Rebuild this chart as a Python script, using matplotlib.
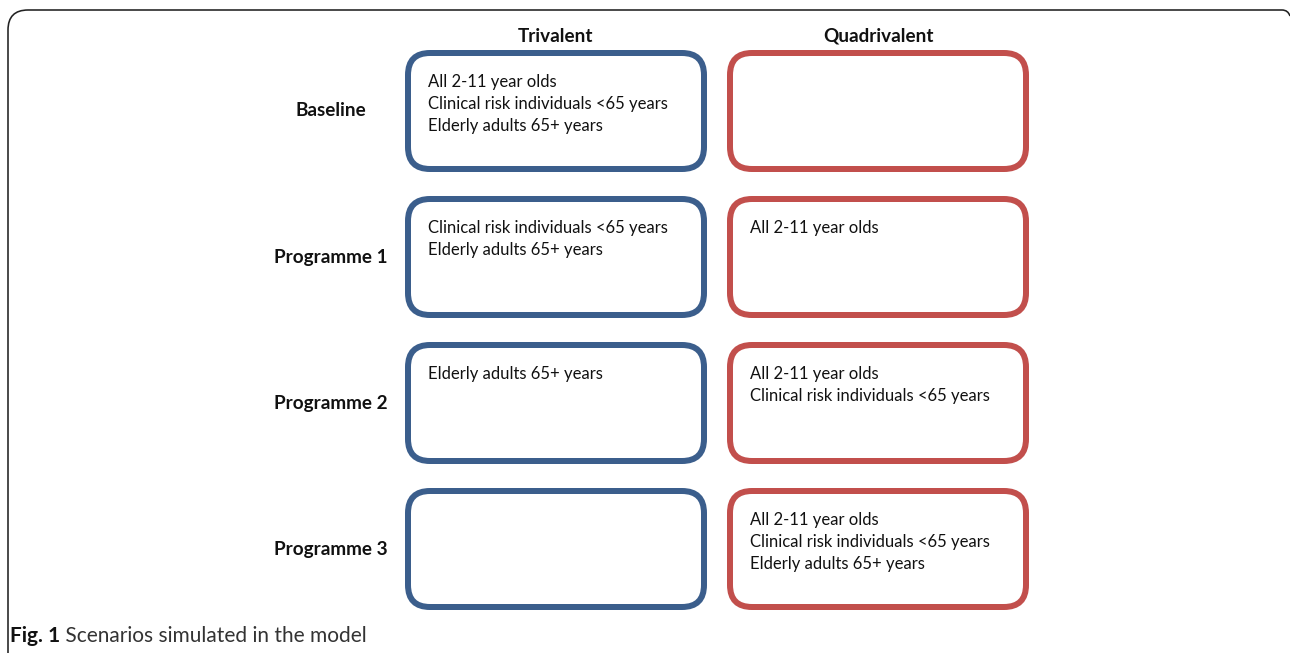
import matplotlib.pyplot as plt
from matplotlib.patches import FancyBboxPatch
from matplotlib.path import Path
from matplotlib.patches import PathPatch

plt.rcParams['font.family'] = ['Lato', 'DejaVu Sans']

columns = ["Trivalent", "Quadrivalent"]
rows = ["Baseline", "Programme 1", "Programme 2", "Programme 3"]
groups = ["All 2-11 year olds", "Clinical risk individuals <65 years", "Elderly adults 65+ years"]
# which groups get which vaccine, per row
trivalent = [[0, 1, 2], [1, 2], [2], []]
quadrivalent = [[], [0], [0, 1], [0, 1, 2]]
caption_bold = "Fig. 1"
caption_rest = " Scenarios simulated in the model"

W, H = 1290, 653
fig = plt.figure(figsize=(W / 100, H / 100), dpi=100)
ax = fig.add_axes([0, 0, 1, 1])
ax.set_xlim(0, W)
ax.set_ylim(H, 0)
ax.axis("off")

px = 72 / 100  # points per pixel

# outer frame (left side and top, rounded corners)
verts = [(8, H + 5), (8, 30), (8, 10), (28, 10), (1282, 10), (1288, 10), (1290, 16)]
codes = [Path.MOVETO, Path.LINETO, Path.CURVE3, Path.CURVE3, Path.LINETO, Path.CURVE3, Path.CURVE3]
ax.add_patch(PathPatch(Path(verts, codes), fill=False, edgecolor="#222222", lw=1.6 * px))

col_x = [408, 730]
col_w = 296
row_y0 = 53
row_h = 116
row_step = 146
colors = ["#3B5E8C", "#C24F4C"]
contents = [trivalent, quadrivalent]

text_size = 12

for j, name in enumerate(columns):
    ax.text(col_x[j] + col_w / 2, 36, name, ha="center", va="center",
            fontsize=13.6, fontweight="bold", color="#111111")

for i, label in enumerate(rows):
    y = row_y0 + i * row_step
    ax.text(331, y + row_h / 2, label, ha="center", va="center",
            fontsize=13.6, fontweight="bold", color="#111111")
    for j in range(2):
        box = FancyBboxPatch((col_x[j], y), col_w, row_h,
                             boxstyle="round,pad=0,rounding_size=22",
                             facecolor="white", edgecolor=colors[j], lw=6 * px)
        ax.add_patch(box)
        for k, g in enumerate(contents[j][i]):
            ax.text(col_x[j] + 20, y + 29 + k * 22, groups[g], ha="left", va="center",
                    fontsize=text_size, color="#111111")

t = ax.text(10, 636, caption_bold, ha="left", va="center", fontsize=15,
            fontweight="bold", color="#111111")
fig.canvas.draw()
bb = t.get_window_extent()
x_end = ax.transData.inverted().transform((bb.x1, bb.y0))[0]
ax.text(x_end, 636, caption_rest, ha="left", va="center", fontsize=15,
        color="#333333")

fig.savefig("out.png", dpi=100)
